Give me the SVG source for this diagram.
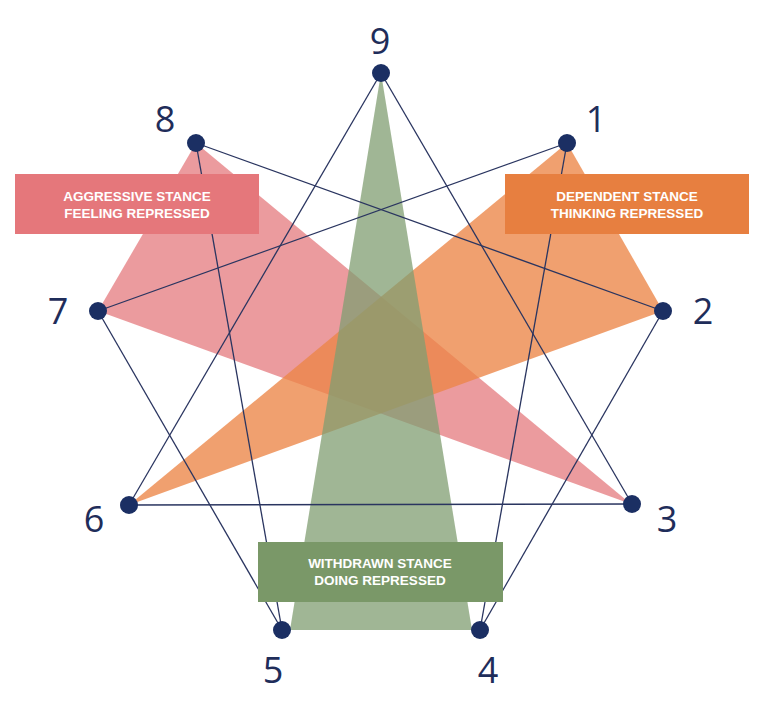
<svg xmlns="http://www.w3.org/2000/svg" width="768" height="701" viewBox="0 0 768 701">
<style>
.num{font-family:"Open Sans","Liberation Sans",sans-serif;font-size:36px;fill:#1f2d5a;text-anchor:middle}
.lbl{font-family:"Liberation Sans",Arial,sans-serif;font-size:13.5px;font-weight:bold;fill:#ffffff;text-anchor:middle}
.ln{stroke:#2a3560;stroke-width:1.3;fill:none}
.dot{fill:#1b2f63}
</style>
<rect width="768" height="701" fill="#ffffff"/>
<g id="triangles">
<polygon id="red-tri" points="196,143 98,311 631,504" fill="#e47a7e" fill-opacity="0.75"/>
<polygon id="orange-tri" points="567,143 663,311 129,505" fill="#ec8547" fill-opacity="0.78"/>
<polygon id="green-tri" points="381,73 290,630 472,630" fill="#809e72" fill-opacity="0.75"/>
</g>
<g id="connectors">
<line class="ln" x1="381" y1="73" x2="632" y2="504"/>
<line class="ln" x1="381" y1="73" x2="129" y2="505"/>
<line class="ln" x1="129" y1="505" x2="632" y2="504"/>
<line class="ln" x1="567" y1="143" x2="480" y2="630"/>
<line class="ln" x1="480" y1="630" x2="663" y2="311"/>
<line class="ln" x1="663" y1="311" x2="196" y2="143"/>
<line class="ln" x1="196" y1="143" x2="282" y2="630"/>
<line class="ln" x1="282" y1="630" x2="98" y2="311"/>
<line class="ln" x1="98" y1="311" x2="567" y2="143"/>
</g>
<g id="box-aggressive">
<rect x="15" y="174" width="244" height="60" fill="#e5777b"/>
<text class="lbl" x="137" y="201">AGGRESSIVE STANCE</text>
<text class="lbl" x="137" y="218">FEELING REPRESSED</text>
</g>
<g id="box-dependent">
<rect x="505" y="174" width="244" height="60" fill="#e77f40"/>
<text class="lbl" x="627" y="201">DEPENDENT STANCE</text>
<text class="lbl" x="627" y="218">THINKING REPRESSED</text>
</g>
<g id="box-withdrawn">
<rect x="258" y="542" width="245" height="60" fill="#7a9868"/>
<text class="lbl" x="380" y="568">WITHDRAWN STANCE</text>
<text class="lbl" x="380" y="585">DOING REPRESSED</text>
</g>
<g id="node-9"><circle class="dot" cx="381" cy="73" r="9"/><text class="num" x="380" y="54">9</text></g>
<g id="node-1"><circle class="dot" cx="567" cy="143" r="9"/><text class="num" x="596" y="132">1</text></g>
<g id="node-2"><circle class="dot" cx="663" cy="311" r="9"/><text class="num" x="703" y="324">2</text></g>
<g id="node-3"><circle class="dot" cx="632" cy="504" r="9"/><text class="num" x="667" y="532">3</text></g>
<g id="node-4"><circle class="dot" cx="480" cy="630" r="9"/><text class="num" x="488" y="683">4</text></g>
<g id="node-5"><circle class="dot" cx="282" cy="630" r="9"/><text class="num" x="273" y="683">5</text></g>
<g id="node-6"><circle class="dot" cx="129" cy="505" r="9"/><text class="num" x="94" y="532">6</text></g>
<g id="node-7"><circle class="dot" cx="98" cy="311" r="9"/><text class="num" x="58" y="324">7</text></g>
<g id="node-8"><circle class="dot" cx="196" cy="143" r="9"/><text class="num" x="165" y="132">8</text></g>
</svg>
